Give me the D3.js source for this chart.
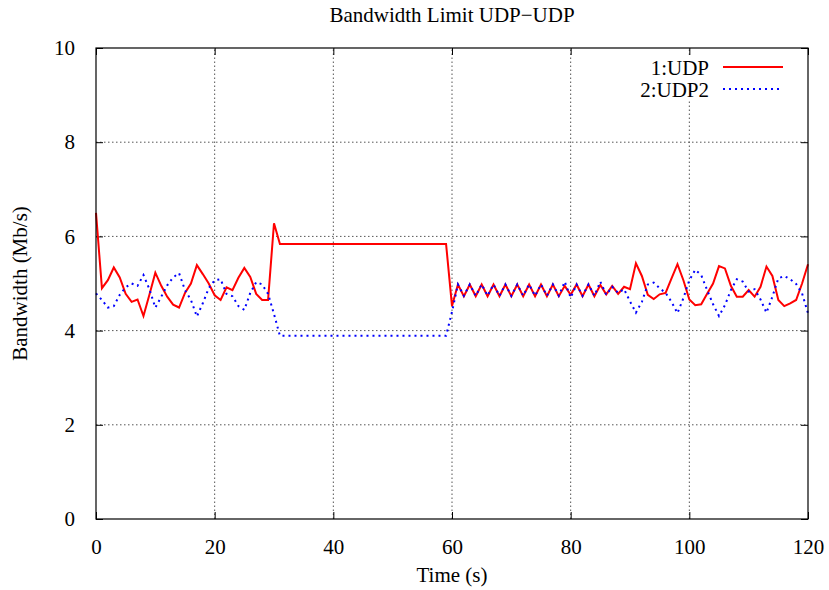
<!DOCTYPE html>
<html>
<head>
<meta charset="utf-8">
<script src="https://cdn.jsdelivr.net/npm/d3@7"></script>
<style>
  body { margin: 0; background: #fff; }
</style>
</head>
<body>
<script>
// data (1 sample per second)
const timeSec = d3.range(0, 121);

const udp1 = [
  6.50, 4.90, 5.07, 5.34, 5.13, 4.78, 4.61, 4.66, 4.31, 4.76,
  5.23, 4.95, 4.72, 4.55, 4.49, 4.80, 5.00, 5.39, 5.20, 5.00,
  4.75, 4.65, 4.92, 4.86, 5.12, 5.33, 5.14, 4.78, 4.65, 4.65,
  6.28, 5.84, 5.84, 5.84, 5.84, 5.84, 5.84, 5.84, 5.84, 5.84,
  5.84, 5.84, 5.84, 5.84, 5.84, 5.84, 5.84, 5.84, 5.84, 5.84,
  5.84, 5.84, 5.84, 5.84, 5.84, 5.84, 5.84, 5.84, 5.84, 5.84,
  4.52, 4.98, 4.73, 4.98, 4.73, 4.98, 4.73, 4.98, 4.73, 4.98,
  4.73, 4.98, 4.73, 4.98, 4.73, 4.98, 4.73, 4.98, 4.73, 4.95,
  4.76, 4.98, 4.73, 4.98, 4.73, 4.97, 4.77, 4.95, 4.78, 4.93,
  4.88, 5.43, 5.16, 4.76, 4.67, 4.77, 4.80, 5.11, 5.41, 5.07,
  4.66, 4.54, 4.56, 4.78, 5.00, 5.37, 5.32, 4.95, 4.72, 4.72,
  4.86, 4.72, 4.93, 5.36, 5.16, 4.65, 4.52, 4.58, 4.65, 5.00,
  5.41
];

const udp2 = [
  4.79, 4.65, 4.49, 4.52, 4.76, 4.92, 5.00, 4.95, 5.18, 4.88,
  4.49, 4.72, 4.96, 5.13, 5.22, 4.86, 4.65, 4.30, 4.58, 4.90,
  5.07, 5.09, 4.78, 4.73, 4.52, 4.44, 4.80, 5.03, 4.98, 4.78,
  4.35, 3.89, 3.89, 3.89, 3.89, 3.89, 3.89, 3.89, 3.89, 3.89,
  3.89, 3.89, 3.89, 3.89, 3.89, 3.89, 3.89, 3.89, 3.89, 3.89,
  3.89, 3.89, 3.89, 3.89, 3.89, 3.89, 3.89, 3.89, 3.89, 3.89,
  4.40, 4.98, 4.74, 4.98, 4.74, 4.98, 4.74, 4.98, 4.74, 4.98,
  4.74, 4.98, 4.74, 4.98, 4.74, 4.98, 4.74, 4.98, 4.74, 5.04,
  4.70, 4.98, 4.74, 4.98, 4.74, 5.04, 4.76, 4.93, 4.80, 4.88,
  4.62, 4.38, 4.61, 4.98, 5.02, 4.90, 4.80, 4.61, 4.37, 4.69,
  5.07, 5.29, 5.18, 4.86, 4.56, 4.31, 4.54, 4.86, 5.09, 5.04,
  4.83, 4.88, 4.66, 4.38, 4.72, 5.11, 5.16, 5.09, 4.99, 4.79,
  4.37
];

const xTicks = [0, 20, 40, 60, 80, 100, 120];
const yTicks = [0, 2, 4, 6, 8, 10];
const seriesNames = ["1:UDP", "2:UDP2"];
const seriesColors = ["#ff0000", "#0000ff"];

const width = 829, height = 590;
const margin = {top: 48, right: 21, bottom: 71, left: 96};
const fontSize = 21;
const fontFamily = "Liberation Serif, Times New Roman, serif";
const tickLen = 7;

const svg = d3.select("body")
  .append("svg")
  .attr("width", width)
  .attr("height", height)
  .style("font-family", fontFamily);

const x = d3.scaleLinear()
  .domain([0, 120])
  .range([margin.left, width - margin.right]);

const y = d3.scaleLinear()
  .domain([0, 10])
  .range([height - margin.bottom, margin.top]);

// grid (dotted)
const grid = svg.append("g");
grid.selectAll(".vgrid")
  .data(xTicks.slice(1, -1))
  .join("line")
  .attr("x1", d => x(d)).attr("x2", d => x(d))
  .attr("y1", y(0)).attr("y2", y(10))
  .attr("stroke", "#555")
  .attr("stroke-width", 1)
  .attr("stroke-dasharray", "1.5,2.5");
grid.selectAll(".hgrid")
  .data(yTicks.slice(1, -1))
  .join("line")
  .attr("x1", x(0)).attr("x2", x(120))
  .attr("y1", d => y(d)).attr("y2", d => y(d))
  .attr("stroke", "#555")
  .attr("stroke-width", 1)
  .attr("stroke-dasharray", "1.5,2.5");

// white box behind the key hides the grid there
svg.append("rect")
  .attr("x", 600)
  .attr("y", 56)
  .attr("width", 200)
  .attr("height", 44)
  .attr("fill", "#fff");

// axes with inward ticks, mirrored on top and right
svg.append("g")
  .attr("transform", `translate(0,${y(0)})`)
  .call(d3.axisBottom(x).tickValues(xTicks).tickSize(-tickLen).tickPadding(tickLen + 13))
  .call(g => g.select(".domain").remove())
  .selectAll("text")
  .style("font-family", fontFamily)
  .attr("font-size", fontSize);

svg.append("g")
  .attr("transform", `translate(0,${y(10)})`)
  .call(d3.axisTop(x).tickValues(xTicks).tickSize(-tickLen).tickFormat(""))
  .call(g => g.select(".domain").remove());

svg.append("g")
  .attr("transform", `translate(${x(0)},0)`)
  .call(d3.axisLeft(y).tickValues(yTicks).tickSize(-tickLen).tickPadding(tickLen + 14))
  .call(g => g.select(".domain").remove())
  .selectAll("text")
  .style("font-family", fontFamily)
  .attr("font-size", fontSize);

svg.append("g")
  .attr("transform", `translate(${x(120)},0)`)
  .call(d3.axisRight(y).tickValues(yTicks).tickSize(-tickLen).tickFormat(""))
  .call(g => g.select(".domain").remove());

svg.selectAll(".tick line").attr("stroke", "#000");

// lines
const line = d3.line()
  .x((d, i) => x(timeSec[i]))
  .y(d => y(d));

svg.append("path")
  .datum(udp1)
  .attr("fill", "none")
  .attr("stroke", seriesColors[0])
  .attr("stroke-width", 2)
  .attr("d", line);

svg.append("path")
  .datum(udp2)
  .attr("fill", "none")
  .attr("stroke", seriesColors[1])
  .attr("stroke-width", 2)
  .attr("stroke-dasharray", "2,4")
  .attr("d", line);

// frame
svg.append("rect")
  .attr("x", x(0))
  .attr("y", y(10))
  .attr("width", x(120) - x(0))
  .attr("height", y(0) - y(10))
  .attr("fill", "none")
  .attr("stroke", "#000")
  .attr("stroke-width", 1.2);

// key
const key = svg.append("g");
seriesNames.forEach((name, i) => {
  key.append("text")
    .attr("x", 709)
    .attr("y", 75 + i * 22)
    .attr("text-anchor", "end")
    .attr("font-size", fontSize)
    .text(name);
  key.append("line")
    .attr("x1", 723).attr("x2", 783)
    .attr("y1", 67 + i * 22).attr("y2", 67 + i * 22)
    .attr("stroke", seriesColors[i])
    .attr("stroke-width", 2)
    .attr("stroke-dasharray", i === 1 ? "2,4" : null);
});

// titles
svg.append("text")
  .attr("x", (x(0) + x(120)) / 2)
  .attr("y", 22)
  .attr("text-anchor", "middle")
  .attr("font-size", fontSize)
  .text("Bandwidth Limit UDP\u2212UDP");

svg.append("text")
  .attr("x", (x(0) + x(120)) / 2)
  .attr("y", 582)
  .attr("text-anchor", "middle")
  .attr("font-size", fontSize)
  .text("Time (s)");

svg.append("text")
  .attr("transform", "rotate(-90)")
  .attr("x", -(y(0) + y(10)) / 2)
  .attr("y", 27)
  .attr("text-anchor", "middle")
  .attr("font-size", fontSize)
  .text("Bandwidth (Mb/s)");
</script>
</body>
</html>
